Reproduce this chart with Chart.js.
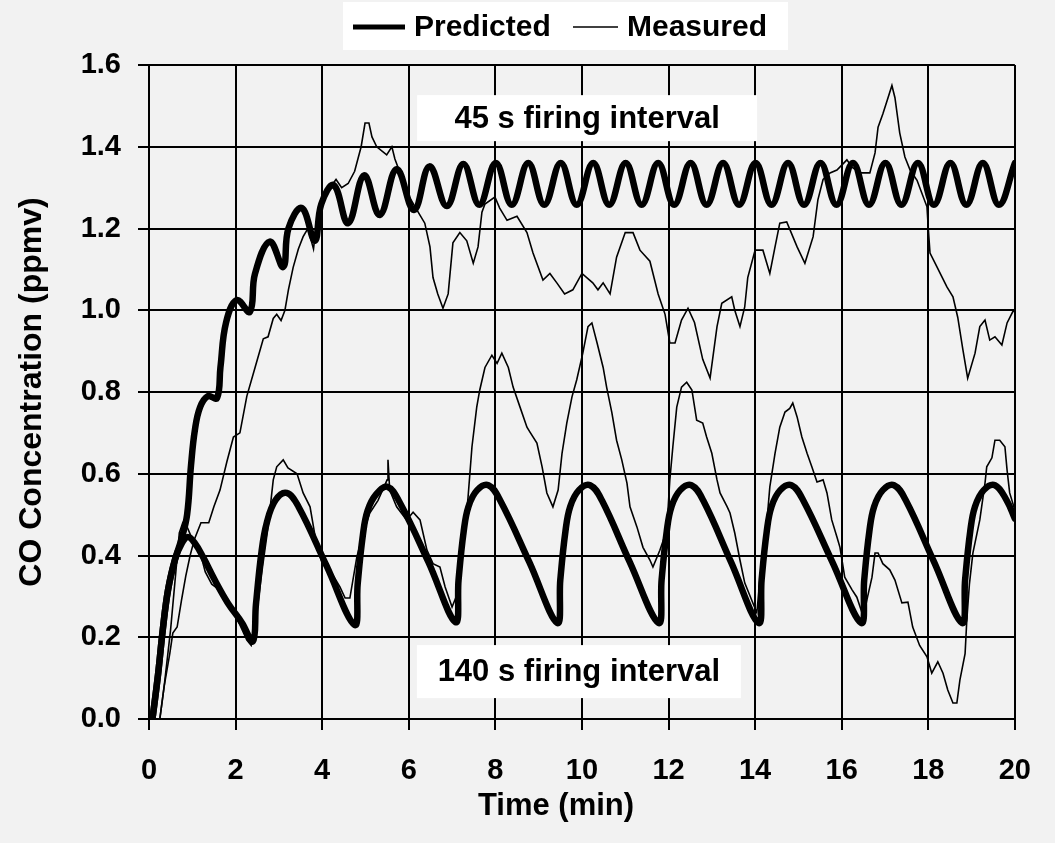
<!DOCTYPE html>
<html>
<head>
<meta charset="utf-8">
<title>CO Concentration</title>
<script src="https://cdn.jsdelivr.net/npm/chart.js@4.4.1/dist/chart.umd.min.js"></script>
<style>
  html, body { margin: 0; padding: 0; background: #f2f2f2; }
  #wrap { width: 1055px; height: 843px; }
</style>
</head>
<body>
<div id="wrap"><canvas id="coChart" width="1055" height="843"></canvas></div>
<script>
// Axis ticks
const timeTicks = [0, 2, 4, 6, 8, 10, 12, 14, 16, 18, 20];
const concTicks = [0.0, 0.2, 0.4, 0.6, 0.8, 1.0, 1.2, 1.4, 1.6];

// Predicted, 45 s firing interval
const pred45Time = [0.08, 0.21, 0.32, 0.44, 0.6, 0.75, 0.88, 0.97, 1.06, 1.18, 1.36, 1.57, 1.65, 1.78, 2.03, 2.33,
  2.45, 2.79, 3.1, 3.22, 3.53, 3.83, 3.98, 4.27, 4.6, 4.97, 5.33, 5.72, 6.12, 6.48,
  6.88, 7.26, 7.63, 8.01, 8.38, 8.76, 9.13, 9.51, 9.88, 10.26, 10.63, 11.01, 11.38, 11.76, 12.13, 12.51,
  12.88, 13.26, 13.63, 14.01, 14.38, 14.76, 15.13, 15.51, 15.88, 16.26, 16.63, 17.01, 17.38, 17.76,
  18.13, 18.51, 18.88, 19.26, 19.63, 20.0];
const pred45Conc = [0.0, 0.11, 0.22, 0.316, 0.39, 0.44, 0.5, 0.62, 0.707, 0.763, 0.79, 0.785, 0.86, 0.97, 1.025, 0.996,
  1.09, 1.168, 1.106, 1.2, 1.25, 1.17, 1.26, 1.306, 1.213, 1.33, 1.233, 1.345, 1.245, 1.352,
  1.255, 1.358, 1.258, 1.36, 1.258, 1.36, 1.258, 1.36, 1.258, 1.36, 1.258, 1.36, 1.258, 1.36, 1.258, 1.36,
  1.258, 1.36, 1.258, 1.36, 1.258, 1.36, 1.258, 1.36, 1.258, 1.36, 1.258, 1.36, 1.258, 1.36,
  1.258, 1.36, 1.258, 1.36, 1.258, 1.36];

// Predicted, 140 s firing interval
const pred140Time = [0.08, 0.21, 0.32, 0.44, 0.6, 0.76, 0.9, 1.06, 1.25, 1.52, 1.82, 2.15, 2.4,
  2.47, 2.6, 2.72, 2.92, 3.18, 3.45, 4.1, 4.75,
  4.82, 4.94, 5.05, 5.25, 5.51, 5.78, 6.45, 7.08,
  7.15, 7.27, 7.38, 7.58, 7.84, 8.11, 8.78, 9.43,
  9.5, 9.62, 9.73, 9.93, 10.19, 10.46, 11.1, 11.77,
  11.84, 11.96, 12.07, 12.27, 12.53, 12.8, 13.44, 14.08,
  14.15, 14.27, 14.38, 14.58, 14.84, 15.11, 15.78, 16.45,
  16.52, 16.64, 16.75, 16.95, 17.21, 17.48, 18.13, 18.78,
  18.85, 18.97, 19.08, 19.28, 19.54, 19.81, 20.0];
const pred140Conc = [0.0, 0.11, 0.22, 0.316, 0.39, 0.43, 0.445, 0.43, 0.396, 0.34, 0.284, 0.235, 0.19,
  0.28, 0.41, 0.48, 0.535, 0.553, 0.52, 0.375, 0.23,
  0.33, 0.45, 0.51, 0.55, 0.568, 0.532, 0.385, 0.237,
  0.34, 0.46, 0.52, 0.56, 0.572, 0.535, 0.385, 0.235,
  0.34, 0.46, 0.52, 0.56, 0.572, 0.535, 0.385, 0.235,
  0.34, 0.46, 0.52, 0.56, 0.572, 0.535, 0.385, 0.235,
  0.34, 0.46, 0.52, 0.56, 0.572, 0.535, 0.385, 0.235,
  0.34, 0.46, 0.52, 0.56, 0.572, 0.535, 0.385, 0.235,
  0.34, 0.46, 0.52, 0.56, 0.572, 0.535, 0.49];

// Measured, 45 s firing interval
const meas45Time = [0.25, 0.35, 0.48, 0.55, 0.65, 0.75, 0.85, 0.95, 1.05, 1.2, 1.38, 1.5, 1.64, 1.8, 1.95, 2.1,
  2.26, 2.45, 2.64, 2.75, 2.87, 2.95, 3.05, 3.14, 3.22, 3.33, 3.45, 3.56, 3.67, 3.8, 3.9, 4.06,
  4.18, 4.32, 4.45, 4.6, 4.75, 4.9, 4.99, 5.08, 5.15, 5.26, 5.49, 5.61, 5.68, 5.8, 5.96, 6.19,
  6.37, 6.49, 6.56, 6.67, 6.79, 6.91, 7.02, 7.18, 7.34, 7.49, 7.6, 7.69, 7.76, 7.99, 8.1, 8.27,
  8.5, 8.73, 8.87, 9.1, 9.26, 9.42, 9.6, 9.79, 10.0, 10.25, 10.37, 10.49, 10.65, 10.8, 11.0, 11.18,
  11.34, 11.57, 11.76, 11.92, 12.03, 12.15, 12.3, 12.45, 12.6, 12.79, 12.96, 13.12, 13.23, 13.46, 13.53, 13.65,
  13.76, 13.83, 14.0, 14.18, 14.34, 14.46, 14.57, 14.73, 14.97, 15.15, 15.34, 15.45, 15.57, 15.73, 15.89, 16.12,
  16.24, 16.42, 16.65, 16.77, 16.84, 16.95, 17.07, 17.16, 17.23, 17.34, 17.46, 17.58, 17.74, 17.85, 17.97, 18.0,
  18.04, 18.2, 18.43, 18.57, 18.68, 18.8, 18.91, 19.08, 19.19, 19.31, 19.42, 19.54, 19.7, 19.82, 19.95, 20.0];
const meas45Conc = [0.0, 0.08, 0.16, 0.21, 0.225, 0.29, 0.35, 0.4, 0.44, 0.48, 0.48, 0.52, 0.56, 0.63, 0.69, 0.7,
  0.79, 0.86, 0.93, 0.935, 0.98, 0.99, 0.975, 1.0, 1.05, 1.105, 1.15, 1.18, 1.2, 1.15, 1.24, 1.28,
  1.3, 1.32, 1.3, 1.31, 1.34, 1.4, 1.458, 1.458, 1.424, 1.4, 1.38, 1.4, 1.37, 1.336, 1.287, 1.245,
  1.213, 1.155, 1.08, 1.04, 1.005, 1.04, 1.165, 1.19, 1.17, 1.115, 1.155, 1.24, 1.26, 1.277, 1.25, 1.22,
  1.23, 1.19, 1.14, 1.074, 1.09, 1.067, 1.04, 1.05, 1.09, 1.067, 1.05, 1.067, 1.04, 1.13, 1.19, 1.19,
  1.147, 1.12, 1.04, 0.99, 0.92, 0.92, 0.976, 1.005, 0.97, 0.88, 0.834, 0.96, 1.017, 1.033, 1.0, 0.96,
  1.008, 1.08, 1.147, 1.147, 1.09, 1.155, 1.213, 1.216, 1.155, 1.115, 1.18, 1.27, 1.32, 1.336, 1.343, 1.368,
  1.35, 1.336, 1.336, 1.385, 1.448, 1.48, 1.52, 1.55, 1.52, 1.434, 1.375, 1.343, 1.318, 1.287, 1.253, 1.2,
  1.14, 1.106, 1.057, 1.033, 0.983, 0.903, 0.834, 0.895, 0.96, 0.976, 0.927, 0.935, 0.915, 0.969, 0.996, 1.0];

// Measured, 140 s firing interval
const meas140Time = [0.25, 0.35, 0.5, 0.62, 0.7, 0.78, 0.88, 1.0, 1.1, 1.2, 1.3, 1.45, 1.57, 1.75, 1.92, 2.1,
  2.26, 2.36, 2.49, 2.62, 2.75, 2.87, 2.95, 3.1, 3.21, 3.42, 3.56, 3.72, 3.84, 4.0, 4.22, 4.41,
  4.53, 4.64, 4.8, 4.92, 5.1, 5.29, 5.5, 5.52, 5.56, 5.72, 5.95, 6.1, 6.26, 6.42, 6.56, 6.72,
  6.84, 7.0, 7.1, 7.26, 7.37, 7.46, 7.57, 7.64, 7.76, 7.92, 8.04, 8.15, 8.3, 8.41, 8.57, 8.73,
  8.8, 8.96, 9.08, 9.19, 9.33, 9.45, 9.54, 9.65, 9.77, 9.88, 10.02, 10.14, 10.23, 10.35, 10.49, 10.57,
  10.69, 10.8, 10.92, 11.04, 11.11, 11.27, 11.41, 11.57, 11.64, 11.8, 11.96, 12.03, 12.1, 12.19, 12.3, 12.42,
  12.54, 12.65, 12.79, 12.88, 13.0, 13.12, 13.19, 13.35, 13.42, 13.53, 13.65, 13.76, 13.92, 14.04, 14.11, 14.23,
  14.34, 14.46, 14.57, 14.69, 14.8, 14.87, 14.97, 15.08, 15.2, 15.31, 15.43, 15.57, 15.66, 15.77, 15.89, 15.96,
  16.07, 16.24, 16.35, 16.5, 16.6, 16.7, 16.77, 16.84, 16.95, 17.11, 17.23, 17.39, 17.53, 17.64, 17.8, 17.97,
  18.08, 18.22, 18.34, 18.45, 18.57, 18.66, 18.73, 18.85, 18.89, 18.95, 19.03, 19.19, 19.31, 19.35, 19.47, 19.54,
  19.65, 19.77, 19.82, 19.88, 20.0];
const meas140Conc = [0.0, 0.08, 0.22, 0.36, 0.455, 0.48, 0.47, 0.44, 0.43, 0.4, 0.36, 0.33, 0.32, 0.29, 0.267, 0.23,
  0.193, 0.18, 0.26, 0.37, 0.47, 0.585, 0.617, 0.634, 0.614, 0.6, 0.553, 0.519, 0.445, 0.38, 0.357, 0.323,
  0.296, 0.296, 0.396, 0.445, 0.504, 0.535, 0.585, 0.634, 0.56, 0.519, 0.487, 0.506, 0.487, 0.413, 0.38, 0.372,
  0.323, 0.274, 0.3, 0.42, 0.543, 0.666, 0.763, 0.805, 0.86, 0.89, 0.87, 0.895, 0.86, 0.812, 0.763, 0.714,
  0.702, 0.675, 0.617, 0.553, 0.519, 0.56, 0.65, 0.724, 0.788, 0.83, 0.895, 0.96, 0.969, 0.92, 0.86, 0.812,
  0.75, 0.682, 0.634, 0.577, 0.519, 0.47, 0.42, 0.389, 0.372, 0.413, 0.462, 0.585, 0.666, 0.763, 0.812, 0.824,
  0.805, 0.731, 0.724, 0.69, 0.65, 0.585, 0.553, 0.52, 0.504, 0.455, 0.389, 0.333, 0.291, 0.26, 0.34, 0.43,
  0.568, 0.65, 0.714, 0.751, 0.76, 0.773, 0.739, 0.69, 0.65, 0.617, 0.58, 0.585, 0.553, 0.487, 0.445, 0.42,
  0.347, 0.316, 0.298, 0.25, 0.3, 0.347, 0.406, 0.406, 0.38, 0.365, 0.34, 0.284, 0.286, 0.225, 0.18, 0.152,
  0.112, 0.14, 0.112, 0.071, 0.039, 0.039, 0.095, 0.16, 0.242, 0.33, 0.406, 0.487, 0.577, 0.617, 0.639, 0.682,
  0.682, 0.666, 0.609, 0.553, 0.511];

// Text boxes on the plot, placed in data units
const boxLabels = [
  { text: '45 s firing interval', x: 10.12, y: 1.47, w: 340, h: 46 },
  { text: '140 s firing interval', x: 9.93, y: 0.116, w: 324, h: 53 }
];

const FONT = "'Liberation Sans', Arial, sans-serif";

function points(xs, ys) {
  return xs.map((x, i) => ({ x: x, y: ys[i] }));
}

// white boxes with labels, x-axis title and the top legend
const decorPlugin = {
  id: 'decor',
  beforeDatasetsDraw(chart) {
    const ctx = chart.ctx;
    const sx = chart.scales.x, sy = chart.scales.y;
    ctx.save();
    ctx.font = 'bold 31px ' + FONT;
    ctx.textAlign = 'center';
    ctx.textBaseline = 'middle';
    boxLabels.forEach(b => {
      const cx = sx.getPixelForValue(b.x);
      const cy = sy.getPixelForValue(b.y);
      ctx.fillStyle = '#ffffff';
      ctx.fillRect(cx - b.w / 2, cy - b.h / 2, b.w, b.h);
      ctx.fillStyle = '#000000';
      ctx.fillText(b.text, cx, cy + 1);
    });
    ctx.restore();
  },
  afterDraw(chart) {
    const ctx = chart.ctx;
    ctx.save();
    // x axis title sits a little left of the plot centre in the original
    ctx.fillStyle = '#000000';
    ctx.font = 'bold 31px ' + FONT;
    ctx.textAlign = 'center';
    ctx.textBaseline = 'middle';
    ctx.fillText('Time (min)', 556, 806);

    ctx.fillStyle = '#ffffff';
    ctx.fillRect(343, 2, 445, 48);
    ctx.strokeStyle = '#000000';
    ctx.lineCap = 'butt';
    ctx.lineWidth = 5;
    ctx.beginPath(); ctx.moveTo(353, 27); ctx.lineTo(405, 27); ctx.stroke();
    ctx.lineWidth = 1.5;
    ctx.beginPath(); ctx.moveTo(573, 27); ctx.lineTo(618, 27); ctx.stroke();
    ctx.fillStyle = '#000000';
    ctx.font = 'bold 30px ' + FONT;
    ctx.textAlign = 'left';
    ctx.fillText('Predicted', 414, 28);
    ctx.fillText('Measured', 627, 28);
    ctx.restore();
  }
};

const thick = { borderColor: '#000', borderWidth: 6.5, pointRadius: 0, tension: 0.4, borderJoinStyle: 'round', borderCapStyle: 'round', fill: false };
const thin = { borderColor: '#000', borderWidth: 1.6, pointRadius: 0, tension: 0, borderJoinStyle: 'miter', fill: false };

const ctx = document.getElementById('coChart').getContext('2d');
const coChart = new Chart(ctx, {
  type: 'line',
  data: {
    datasets: [
      Object.assign({ label: 'Predicted', data: points(pred45Time, pred45Conc) }, thick),
      Object.assign({ label: 'Predicted 140 s', data: points(pred140Time, pred140Conc) }, thick),
      Object.assign({ label: 'Measured', data: points(meas45Time, meas45Conc) }, thin),
      Object.assign({ label: 'Measured 140 s', data: points(meas140Time, meas140Conc) }, thin)
    ]
  },
  options: {
    responsive: false,
    animation: false,
    layout: { padding: { top: 65, right: 40, left: 0, bottom: 0 } },
    plugins: {
      legend: { display: false },
      tooltip: { enabled: false }
    },
    scales: {
      x: {
        type: 'linear',
        min: 0,
        max: 20,
        afterBuildTicks: axis => { axis.ticks = timeTicks.map(v => ({ value: v })); },
        afterFit: axis => { axis.height = 124; },
        grid: { color: '#000', lineWidth: 2, tickLength: 11 },
        border: { color: '#000', width: 2 },
        ticks: {
          color: '#000',
          padding: 24,
          maxRotation: 0,
          font: { family: FONT, size: 29, weight: 'bold' },
          callback: v => String(v)
        },
        title: { display: false }
      },
      y: {
        min: 0,
        max: 1.6,
        afterBuildTicks: axis => { axis.ticks = concTicks.map(v => ({ value: v })); },
        afterFit: axis => { axis.width = 149; },
        grid: { color: '#000', lineWidth: 2, tickLength: 11 },
        border: { color: '#000', width: 2 },
        ticks: {
          color: '#000',
          padding: 17,
          font: { family: FONT, size: 29, weight: 'bold' },
          callback: v => v.toFixed(1)
        },
        title: {
          display: true,
          text: 'CO Concentration (ppmv)',
          color: '#000',
          font: { family: FONT, size: 32, weight: 'bold' },
          padding: { top: 13, bottom: 0 }
        }
      }
    }
  },
  plugins: [decorPlugin]
});
</script>
</body>
</html>
